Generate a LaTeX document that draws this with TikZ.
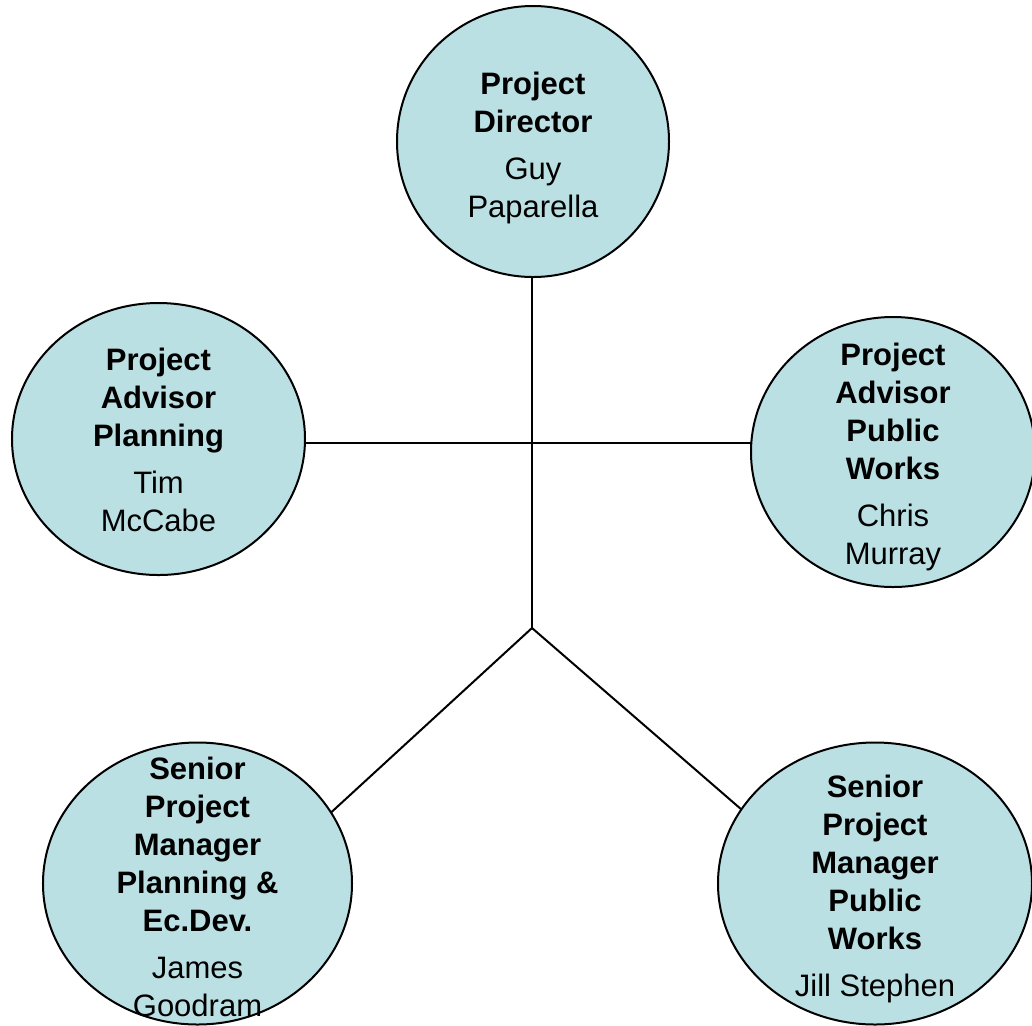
\documentclass[tikz,border=0pt]{standalone}
\usepackage{fontspec}
\setmainfont{Liberation Sans}
\usetikzlibrary{shapes}
\definecolor{unitfill}{RGB}{187,224,227}

\begin{document}
\begin{tikzpicture}[x=0.5bp,y=-0.5bp,line join=bevel,
  unit/.style={draw,fill=unitfill,ellipse,inner sep=0pt,outer sep=0pt},
  who/.style={align=center,inner sep=0pt,font=\fontsize{15.5bp}{19bp}\selectfont}]
\pgfsetlinewidth{1bp}
\useasboundingbox (0,0) rectangle (1032,1026);
%%
\node (PD) at (533,141.5) [unit, minimum width=136bp, minimum height=135.5bp] {};
  \node (APP) at (158.5,439) [unit, minimum width=146.5bp, minimum height=136bp] {};
  \node (APW) at (893,452) [unit, minimum width=142bp, minimum height=135bp] {};
  \node (SPP) at (197.5,883.5) [unit, minimum width=154.5bp, minimum height=141bp] {};
  \node (SPW) at (875,883.5) [unit, minimum width=157bp, minimum height=141bp] {};
  %% names
  \node (PDt) at ([yshift=-3bp]PD) [who] {\textbf{Project}\\\textbf{Director}\\[4.5bp]Guy\\Paparella};
  \node (APPt) at ([yshift=-0.5bp]APP) [who] {\textbf{Project}\\\textbf{Advisor}\\\textbf{Planning}\\[4.5bp]Tim\\McCabe};
  \node (APWt) at ([yshift=-2.5bp]APW) [who] {\textbf{Project}\\\textbf{Advisor}\\\textbf{Public}\\\textbf{Works}\\[4.5bp]Chris\\Murray};
  \node (SPPt) at ([yshift=-1.75bp]SPP) [who] {\textbf{Senior}\\\textbf{Project}\\\textbf{Manager}\\\textbf{Planning \&}\\\textbf{Ec.Dev.}\\[4.5bp]James\\Goodram};
  \node (SPWt) at ([yshift=-2.5bp]SPW) [who] {\textbf{Senior}\\\textbf{Project}\\\textbf{Manager}\\\textbf{Public}\\\textbf{Works}\\[4.5bp]Jill Stephen};
  %% links
  \coordinate (J) at (532,628);
  \coordinate (X) at (532,443);
  \draw (PD.south -| J) -- (J);
  \draw (X -| APP.east) -- (X -| APW.west);
  \draw (J) -- (SPP.28);
  \draw (J) -- (SPW.151);
%
\end{tikzpicture}
\end{document}
